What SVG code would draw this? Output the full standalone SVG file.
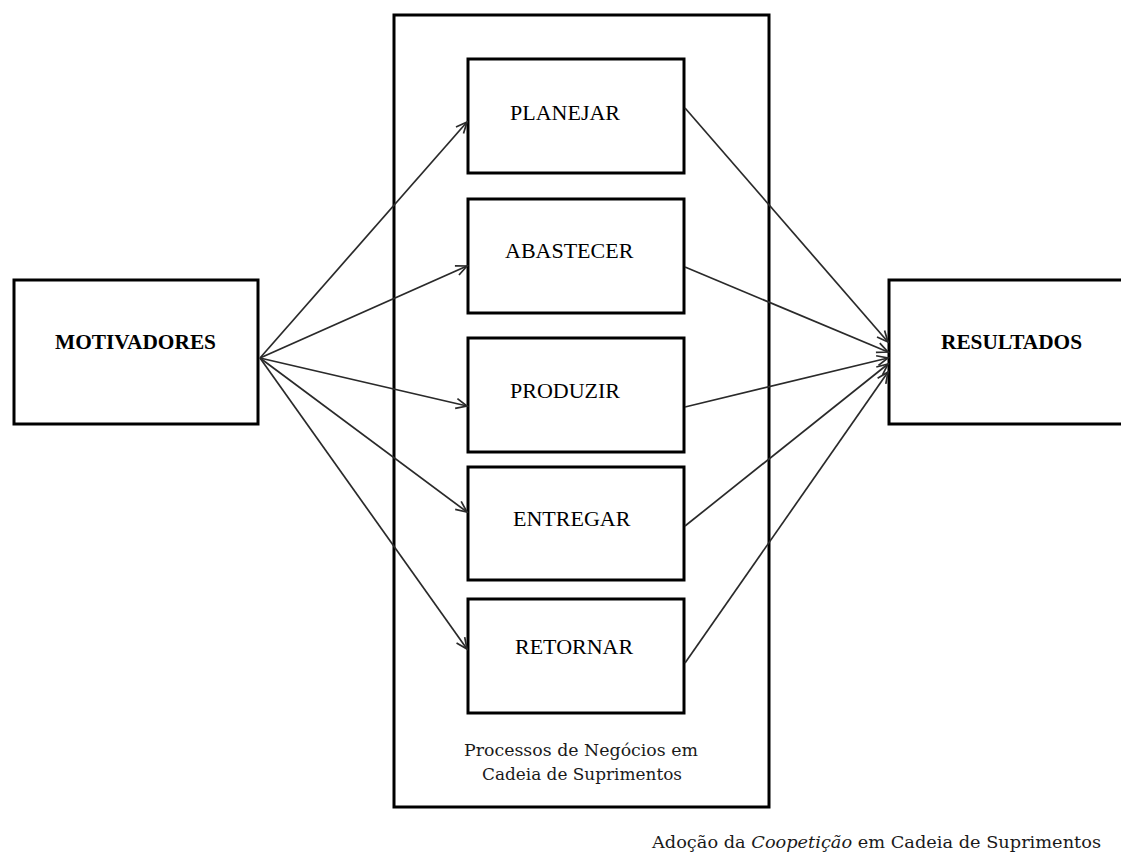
<svg xmlns="http://www.w3.org/2000/svg" width="1121" height="856" viewBox="0 0 1121 856">
  <style>
    .box { fill: #ffffff; stroke: #000000; stroke-width: 3; }
    .frame { fill: none; stroke: #000000; stroke-width: 3; }
    .label { font-family: "Liberation Serif", "Times New Roman", serif; font-size: 22px; fill: #000000; }
    .bold { font-family: "Liberation Serif", "Times New Roman", serif; font-size: 21px; font-weight: bold; fill: #000000; }
    .note { font-family: "DejaVu Serif", "Liberation Serif", serif; font-size: 17px; fill: #1a1a1a; }
    .link { fill: none; stroke: #2a2a2a; stroke-width: 1.7; marker-end: url(#arrow); }
  </style>
  <defs>
    <marker id="arrow" markerUnits="userSpaceOnUse" markerWidth="14" markerHeight="14" refX="12" refY="6" orient="auto">
      <path d="M1,1 L12,6 L1,11" fill="none" stroke="#2a2a2a" stroke-width="1.7"/>
    </marker>
  </defs>

  <rect width="1121" height="856" fill="#ffffff"/>

  <!-- container for the business processes -->
  <g id="processos">
    <rect class="frame" x="394" y="15" width="375" height="792"/>
    <text class="note" x="581" y="756" text-anchor="middle" textLength="234" lengthAdjust="spacingAndGlyphs">Processos de Negócios em</text>
    <text class="note" x="582" y="780" text-anchor="middle" textLength="200" lengthAdjust="spacingAndGlyphs">Cadeia de Suprimentos</text>
  </g>

  <g id="motivadores">
    <rect class="box" x="14" y="280" width="244" height="144"/>
    <text class="bold" x="55" y="349" textLength="161" lengthAdjust="spacingAndGlyphs">MOTIVADORES</text>
  </g>

  <g id="resultados">
    <rect class="box" x="889" y="280" width="240" height="144"/>
    <text class="bold" x="941" y="349" textLength="141" lengthAdjust="spacingAndGlyphs">RESULTADOS</text>
  </g>

  <g id="planejar">
    <rect class="box" x="468" y="59" width="216" height="114"/>
    <text class="label" x="510" y="120">PLANEJAR</text>
  </g>

  <g id="abastecer">
    <rect class="box" x="468" y="199" width="216" height="114"/>
    <text class="label" x="505" y="258">ABASTECER</text>
  </g>

  <g id="produzir">
    <rect class="box" x="468" y="338" width="216" height="114"/>
    <text class="label" x="510" y="398">PRODUZIR</text>
  </g>

  <g id="entregar">
    <rect class="box" x="468" y="467" width="216" height="113"/>
    <text class="label" x="513" y="526">ENTREGAR</text>
  </g>

  <g id="retornar">
    <rect class="box" x="468" y="599" width="216" height="114"/>
    <text class="label" x="515" y="654">RETORNAR</text>
  </g>

  <g id="conectores">
    <line class="link" x1="260" y1="358" x2="467" y2="122"/>
    <line class="link" x1="260" y1="358" x2="467" y2="266"/>
    <line class="link" x1="260" y1="358" x2="467" y2="406"/>
    <line class="link" x1="260" y1="358" x2="467" y2="512"/>
    <line class="link" x1="260" y1="358" x2="467" y2="649"/>

    <line class="link" x1="685" y1="108" x2="888" y2="342"/>
    <line class="link" x1="685" y1="267" x2="888" y2="352"/>
    <line class="link" x1="685" y1="407" x2="888" y2="358"/>
    <line class="link" x1="685" y1="526" x2="888" y2="364"/>
    <line class="link" x1="685" y1="663" x2="888" y2="372"/>
  </g>

  <text class="note" x="652" y="848" font-size="17.5" textLength="449" lengthAdjust="spacingAndGlyphs">Adoção da <tspan font-style="italic">Coopetição</tspan> em Cadeia de Suprimentos</text>
</svg>
